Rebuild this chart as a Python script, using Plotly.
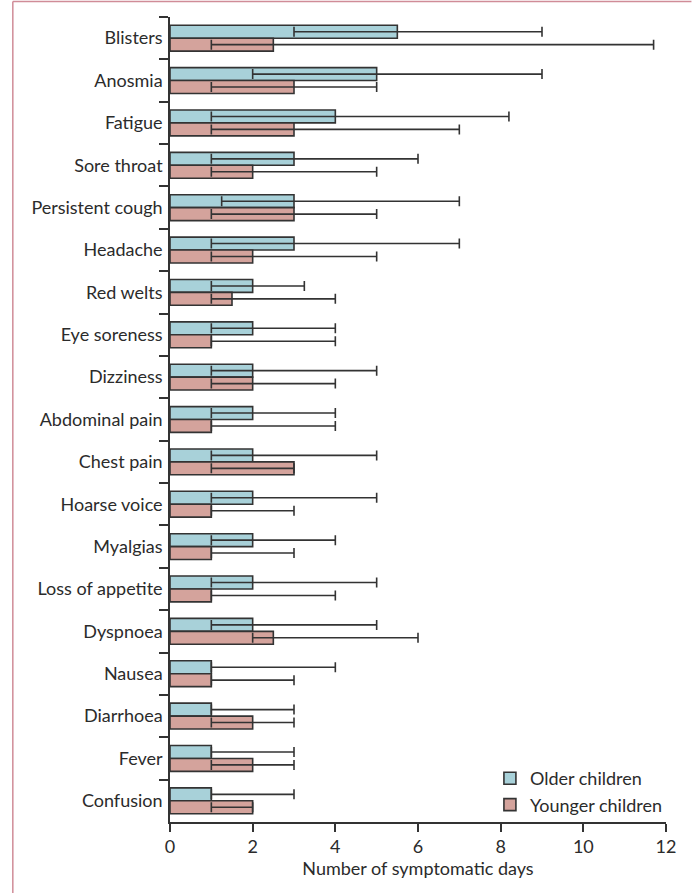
import plotly.graph_objects as go

# Symptoms, top to bottom
symptoms = ["Blisters", "Anosmia", "Fatigue", "Sore throat", "Persistent cough",
            "Headache", "Red welts", "Eye soreness", "Dizziness", "Abdominal pain",
            "Chest pain", "Hoarse voice", "Myalgias", "Loss of appetite", "Dyspnoea",
            "Nausea", "Diarrhoea", "Fever", "Confusion"]

# Older children: median and IQR of symptomatic days
older_median = [5.5, 5, 4, 3, 3, 3, 2, 2, 2, 2, 2, 2, 2, 2, 2, 1, 1, 1, 1]
older_q1 = [3, 2, 1, 1, 1.25, 1, 1, 1, 1, 1, 1, 1, 1, 1, 1, 1, 1, 1, 1]
older_q3 = [9, 9, 8.2, 6, 7, 7, 3.25, 4, 5, 4, 5, 5, 4, 5, 5, 4, 3, 3, 3]

# Younger children: median and IQR of symptomatic days
younger_median = [2.5, 3, 3, 2, 3, 2, 1.5, 1, 2, 1, 3, 1, 1, 1, 2.5, 1, 2, 2, 2]
younger_q1 = [1, 1, 1, 1, 1, 1, 1, 1, 1, 1, 1, 1, 1, 1, 2, 1, 1, 1, 1]
younger_q3 = [11.7, 5, 7, 5, 5, 5, 4, 4, 4, 4, 3, 3, 3, 4, 6, 3, 3, 3, 2]

x_ticks = [0, 2, 4, 6, 8, 10, 12]

FONT = "Lato"
INK = "#2b2b2b"
OUTLINE = "#333333"


def group_trace(name, median, q1, q3, fill):
    return go.Bar(
        name=name,
        y=symptoms,
        x=median,
        orientation="h",
        marker=dict(color=fill, line=dict(color=OUTLINE, width=1.6)),
        error_x=dict(
            type="data",
            symmetric=False,
            array=[hi - m for hi, m in zip(q3, median)],
            arrayminus=[m - lo for m, lo in zip(median, q1)],
            color=OUTLINE,
            thickness=1.6,
            width=5,
        ),
    )


fig = go.Figure()
fig.add_trace(group_trace("Older children", older_median, older_q1, older_q3, "#a8d1d9"))
fig.add_trace(group_trace("Younger children", younger_median, younger_q1, younger_q3, "#d4a39c"))

fig.update_layout(
    width=692,
    height=893,
    margin=dict(l=169.5, r=25.5, t=17, b=71),
    paper_bgcolor="white",
    plot_bgcolor="white",
    barmode="group",
    bargap=0.39,
    bargroupgap=0,
    font=dict(family=FONT, size=18, color=INK),
    showlegend=True,
    legend=dict(
        x=0.645, xanchor="left",
        y=0.077, yanchor="top",
        bgcolor="rgba(0,0,0,0)",
        font=dict(family=FONT, size=18, color=INK),
        tracegroupgap=0,
    ),
    shapes=[
        # frame lines along the top and left of the figure
        dict(type="line", xref="paper", yref="paper",
             x0=(12 - 169.5) / 497, x1=(692 - 169.5) / 497,
             y0=(822 - 1.5) / 805, y1=(822 - 1.5) / 805,
             line=dict(color="#d08c98", width=1.5)),
        dict(type="line", xref="paper", yref="paper",
             x0=(12 - 169.5) / 497, x1=(12 - 169.5) / 497,
             y0=(822 - 1.5) / 805, y1=(822 - 893) / 805,
             line=dict(color="#d08c98", width=1.5)),
    ],
)

fig.update_xaxes(
    range=[0, 12],
    tickvals=x_ticks,
    ticktext=[str(v) for v in x_ticks],
    ticks="outside",
    ticklen=8,
    tickwidth=1.6,
    tickcolor=OUTLINE,
    showline=True,
    linecolor=OUTLINE,
    linewidth=1.6,
    showgrid=False,
    zeroline=False,
    title=dict(text="Number of symptomatic days", standoff=6,
               font=dict(family=FONT, size=18, color=INK)),
    tickfont=dict(family=FONT, size=18, color=INK),
)

fig.update_yaxes(
    type="category",
    categoryorder="array",
    categoryarray=symptoms,
    autorange="reversed",
    ticks="outside",
    tickson="boundaries",
    ticklen=9,
    tickwidth=1.6,
    tickcolor=OUTLINE,
    showline=True,
    linecolor=OUTLINE,
    linewidth=1.6,
    showgrid=False,
    zeroline=False,
    ticklabelstandoff=2,
    tickfont=dict(family=FONT, size=18, color=INK),
)

fig.write_html("out.html")
